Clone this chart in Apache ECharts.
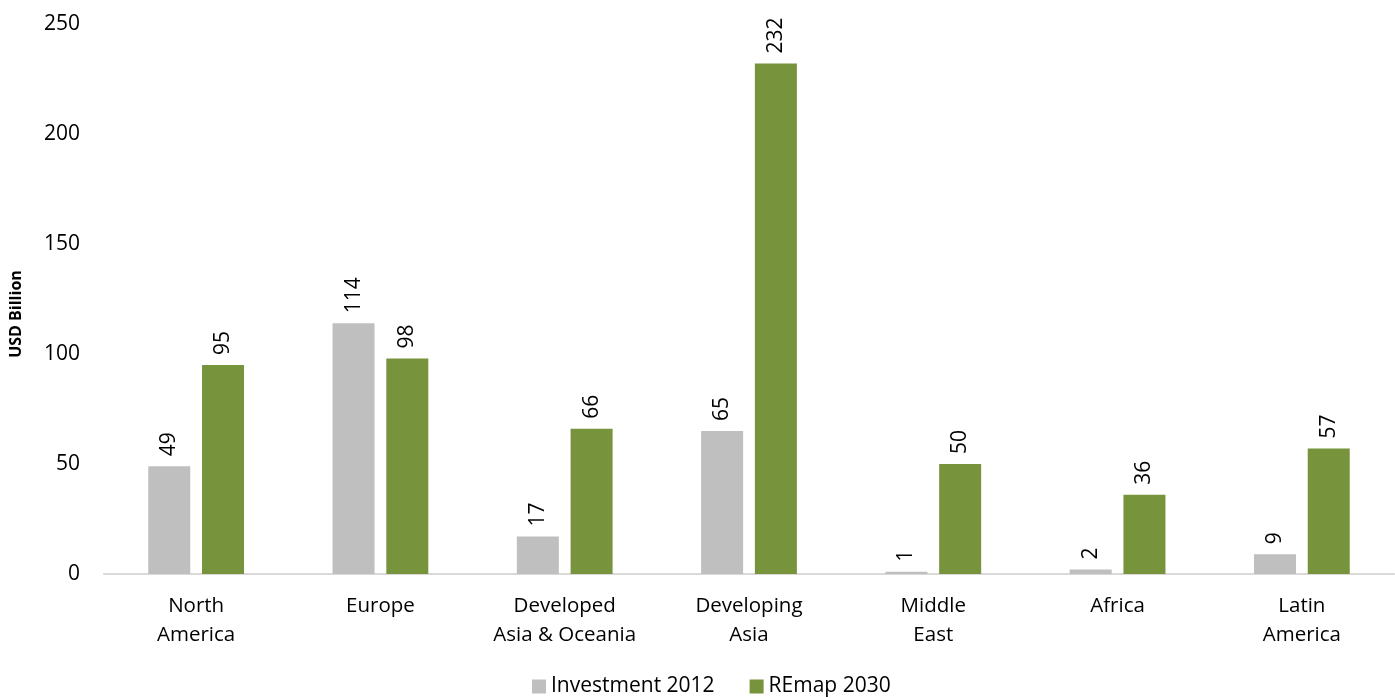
<!DOCTYPE html>
<html><head><meta charset="utf-8">
<script src="https://cdn.jsdelivr.net/npm/echarts@6/dist/echarts.min.js"></script>
<style>html,body{margin:0;padding:0;background:#fff}#c{width:1395px;height:698px}</style>
</head><body><div id="c"></div>
<script>
var categories = ['North\nAmerica', 'Europe', 'Developed\nAsia & Oceania', 'Developing\nAsia', 'Middle\nEast', 'Africa', 'Latin\nAmerica'];
var investment2012 = [49, 114, 17, 65, 1, 2, 9];
var remap2030 = [95, 98, 66, 232, 50, 36, 57];
var yTicks = [0, 50, 100, 150, 200, 250];

var font = 'Open Sans';
var chart = echarts.init(document.getElementById('c'));
var lbl = {show: true, position: 'top', rotate: 90, align: 'left', verticalAlign: 'middle', distance: 10,
  color: '#000', fontFamily: font, fontSize: 21};
chart.setOption({
  animation: false,
  grid: {left: 102, right: 1, top: 24, bottom: 124},
  legend: {bottom: 1, left: 532, padding: 0, itemWidth: 14, itemHeight: 14, itemGap: 35,
    icon: 'rect', textStyle: {fontFamily: font, fontSize: 21, color: '#000'},
    data: ['Investment 2012', 'REmap 2030']},
  xAxis: {type: 'category', data: categories,
    axisLine: {lineStyle: {color: '#d9d9d9', width: 2}}, axisTick: {show: false},
    axisLabel: {fontFamily: font, fontSize: 20.5, color: '#000', lineHeight: 29, margin: 18, interval: 0}},
  yAxis: {type: 'value', min: yTicks[0], max: yTicks[yTicks.length - 1], interval: 50,
    name: 'USD Billion', nameLocation: 'middle', nameGap: 80,
    nameTextStyle: {fontFamily: font, fontSize: 16, fontWeight: 'bold', color: '#000', padding: [0, 30, 0, 0]},
    axisLine: {show: false}, axisTick: {show: false}, splitLine: {show: false},
    axisLabel: {fontFamily: font, fontSize: 21, color: '#000', margin: 24}},
  series: [
    {name: 'Investment 2012', type: 'bar', data: investment2012, barWidth: 42, barGap: '28%',
      itemStyle: {color: '#BFBFBF'}, label: lbl},
    {name: 'REmap 2030', type: 'bar', data: remap2030, barWidth: 42,
      itemStyle: {color: '#77933C'}, label: lbl}
  ]
});
</script></body></html>
